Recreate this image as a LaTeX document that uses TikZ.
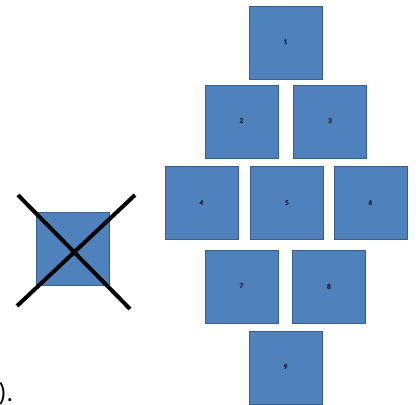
\documentclass[tikz,border=0pt]{standalone}
\usepackage{fontspec}
\setmainfont{Carlito}
\usepackage{xcolor}
\usepackage{tikz}
\usetikzlibrary{positioning}
\definecolor{tileblue}{HTML}{4F81BD}
\definecolor{tileedge}{HTML}{385D8A}
\tikzset{
tile/.style={rectangle,minimum width=73pt,minimum height=73pt,inner sep=0pt,
draw=tileedge,line width=0.8pt,fill=tileblue,font=\fontsize{7.5}{8}\selectfont\bfseries},
crossline/.style={line width=4pt,draw=black}
}
\begin{document}
\begin{tikzpicture}[x=1pt,y=-1pt]
		\useasboundingbox (0,0) rectangle (416,405);

		\node [tile] (T1) at (285.5,42.5) {1};
		\node [tile] (T2) at (241.5,121.5) {2};
		\node [tile] (T3) at (330,121.5) {3};
		\node [tile] (T4) at (201.5,203) {4};
		\node [tile] (T5) at (287,203) {5};
		\node [tile] (T6) at (370.5,203) {6};
		\node [tile] (T7) at (241.5,286.5) {7};
		\node [tile] (T8) at (329,286.5) {8};
		\node [tile] (T9) at (285.5,367.5) {9};

		\node [tile] (Tx) at (73,249) {};
		\coordinate (Xa) at (18,195);
		\coordinate (Xb) at (130,309);
		\coordinate (Xc) at (135,195);
		\coordinate (Xd) at (17,306);
		\draw [crossline] (Xa) -- (Xb);
		\draw [crossline] (Xc) -- (Xd);

\node [anchor=base west,inner sep=0pt,font=\fontsize{26}{30}\selectfont] (paren) at (-1.5,401) {).};

	\end{tikzpicture}
\end{document}
